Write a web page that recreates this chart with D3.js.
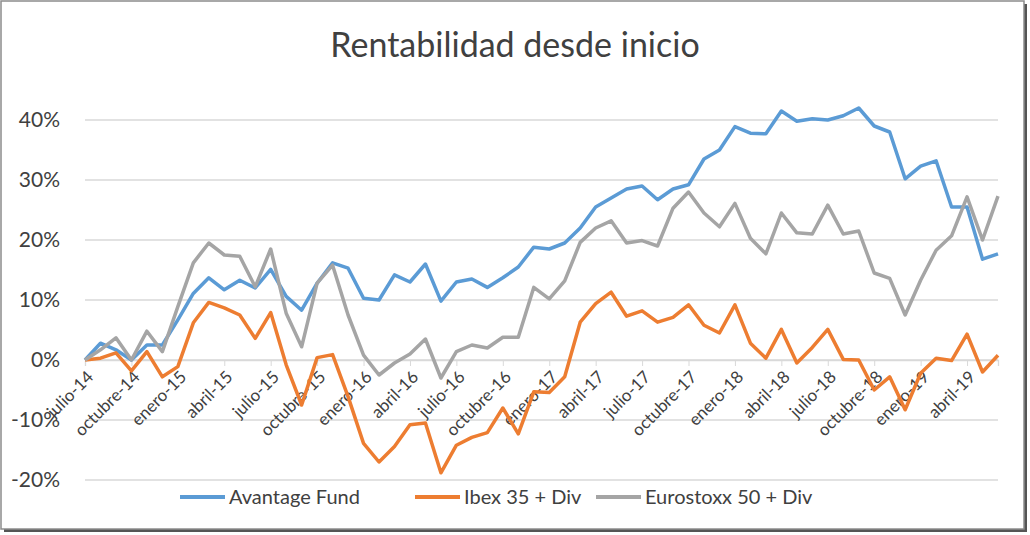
<!DOCTYPE html>
<html>
<head>
<meta charset="utf-8">
<script src="https://cdn.jsdelivr.net/npm/d3@7"></script>
<style>
  body { margin: 0; background: #fff; }
  text { font-family: Lato, "Open Sans", sans-serif; fill: #404040; }
</style>
</head>
<body>
<div id="chart"></div>
<script>
// Months julio-14 .. junio-19
const monthNames = ["enero", "febrero", "marzo", "abril", "mayo", "junio", "julio", "agosto", "septiembre", "octubre", "noviembre", "diciembre"];
const months = d3.range(60).map(i => {
    const m = (6 + i) % 12, y = 14 + Math.floor((6 + i) / 12);
    return monthNames[m] + "-" + y;
});

const avantage = [0, 2.8, 1.7, 0, 2.5, 2.5, 6.7, 11.1, 13.7, 11.7, 13.3, 12, 15.1, 10.6, 8.3, 12.8, 16.2, 15.3, 10.3, 10,
    14.2, 13, 16, 9.8, 13, 13.5, 12.1, 13.7, 15.5, 18.8, 18.5, 19.5, 22, 25.5, 27, 28.5, 29, 26.7, 28.5, 29.2,
    33.5, 35, 38.9, 37.8, 37.7, 41.5, 39.8, 40.2, 40, 40.7, 42, 39, 38, 30.2, 32.3, 33.2, 25.5, 25.5, 16.8, 17.7];
const ibex = [0, 0.3, 1.2, -1.8, 1.4, -2.8, -1.1, 6.2, 9.6, 8.7, 7.5, 3.6, 7.9, -0.8, -7.5, 0.4, 0.9, -6.1, -13.9, -17,
    -14.4, -10.8, -10.5, -18.8, -14.2, -12.9, -12.1, -8, -12.3, -5.3, -5.4, -2.8, 6.3, 9.4, 11.3, 7.3, 8.2, 6.3, 7.1, 9.2,
    5.8, 4.5, 9.2, 2.8, 0.3, 5.1, -0.5, 2.1, 5.1, 0.1, 0, -5, -2.8, -8.3, -2.2, 0.3, -0.1, 4.3, -2, 0.8];
const eurostoxx = [0, 1.7, 3.7, 0, 4.8, 1.4, 8.9, 16.2, 19.5, 17.5, 17.3, 12.2, 18.5, 7.8, 2.2, 12.8, 15.8, 7.5, 0.8, -2.5,
    -0.5, 1, 3.5, -3, 1.4, 2.5, 2, 3.8, 3.8, 12.1, 10.2, 13.2, 19.6, 22, 23.2, 19.5, 19.9, 19, 25.3, 28,
    24.5, 22.2, 26.1, 20.3, 17.7, 24.5, 21.2, 21, 25.8, 21, 21.5, 14.5, 13.6, 7.5, 13.3, 18.3, 20.7, 27.2, 20, 27.3];

const seriesNames = ["Avantage Fund", "Ibex 35 + Div", "Eurostoxx 50 + Div"];
const seriesColors = ["#5b9bd5", "#ed7d31", "#a5a5a5"];
const yTicks = [-20, -10, 0, 10, 20, 30, 40];

const W = 1030, H = 535;
const svg = d3.select("#chart").append("svg").attr("width", W).attr("height", H);

// Frame with shadow
svg.append("rect").attr("x", 4).attr("y", 4).attr("width", W - 7).attr("height", H - 7).attr("fill", "#555");
svg.append("rect").attr("x", 1).attr("y", 1).attr("width", W - 7).attr("height", H - 7)
    .attr("fill", "#fff").attr("stroke", "#8c8c8c").attr("stroke-width", 1.5);

const x = d3.scalePoint().domain(months).range([85, 998]);
const y = d3.scaleLinear().domain([-20, 40]).range([480, 120]);

// Gridlines
svg.append("g").selectAll("line").data(yTicks).enter().append("line")
    .attr("x1", 85).attr("x2", 998)
    .attr("y1", d => y(d)).attr("y2", d => y(d))
    .attr("stroke", "#d9d9d9").attr("stroke-width", 1.3);

// Y labels
svg.append("g").selectAll("text").data(yTicks).enter().append("text")
    .attr("x", 60).attr("y", d => y(d) + 7)
    .attr("text-anchor", "end").style("font-size", "21px")
    .text(d => d + "%");

// X axis (category axis on the 0% line)
const shown = months.filter((d, i) => i % 3 === 0);
const xAxis = svg.append("g").attr("transform", `translate(0,${y(0)})`)
    .call(d3.axisBottom(x).tickValues(shown).tickSize(6).tickPadding(0));
xAxis.select(".domain").attr("stroke", "#d9d9d9").attr("stroke-width", 1.3);
xAxis.selectAll(".tick line").attr("stroke", "#d9d9d9");
xAxis.selectAll(".tick text")
    .attr("text-anchor", "end")
    .attr("y", 0).attr("dy", 0)
    .attr("transform", "translate(9,18) rotate(-45)")
    .style("font-size", "17px").style("font-family", "Lato, sans-serif").attr("fill", "#404040");

// Lines
const line = d3.line().x((d, i) => x(months[i])).y(d => y(d));
[avantage, ibex, eurostoxx].forEach((s, k) => {
    svg.append("path").datum(s)
        .attr("d", line).attr("fill", "none")
        .attr("stroke", seriesColors[k]).attr("stroke-width", 3.5)
        .attr("stroke-linejoin", "round");
});

// Title
svg.append("text").attr("x", 515).attr("y", 57).attr("text-anchor", "middle")
    .style("font-size", "34px").attr("fill", "#000").text("Rentabilidad desde inicio");

// Legend
const legendX = [180, 415, 596];
seriesNames.forEach((n, k) => {
    const g = svg.append("g").attr("transform", `translate(${legendX[k]},497)`);
    g.append("line").attr("x1", 0).attr("x2", 45).attr("stroke", seriesColors[k]).attr("stroke-width", 4);
    g.append("text").attr("x", 49).attr("y", 7).style("font-size", "20px").text(n);
});
</script>
</body>
</html>
